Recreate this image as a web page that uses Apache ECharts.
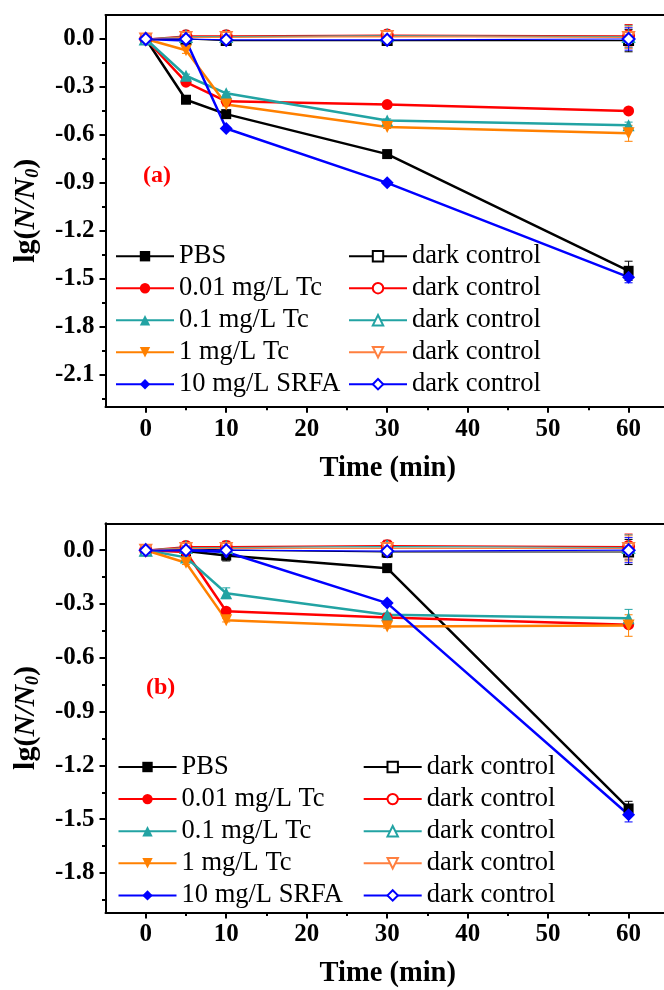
<!DOCTYPE html>
<html>
<head>
<meta charset="utf-8">
<script src="https://cdn.jsdelivr.net/npm/echarts@6/dist/echarts.min.js"></script>
<style>
  html, body { margin: 0; padding: 0; background: #fff; }
  #chart { width: 664px; height: 990px; }
</style>
</head>
<body>
<div id="chart"></div>
<script type="text/javascript">
// sampling times (min)
var times = [0, 5, 10, 30, 60];
var xTicks = [0, 10, 20, 30, 40, 50, 60];
var xMinor = [5, 15, 25, 35, 45, 55];
var yTicksA = [0.0, -0.3, -0.6, -0.9, -1.2, -1.5, -1.8, -2.1];
var yMinorA = [-0.15, -0.45, -0.75, -1.05, -1.35, -1.65, -1.95, -2.25];
var yTicksB = [0.0, -0.3, -0.6, -0.9, -1.2, -1.5, -1.8];
var yMinorB = [-0.15, -0.45, -0.75, -1.05, -1.35, -1.65, -1.95];

// panel (a)
var aPBS    = [0, -0.38, -0.47, -0.72, -1.45];
var aTc001  = [0, -0.27, -0.39, -0.41, -0.45];
var aTc01   = [0, -0.23, -0.34, -0.51, -0.54];
var aTc1    = [0, -0.07, -0.41, -0.55, -0.59];
var aSRFA   = [0, -0.01, -0.56, -0.90, -1.49];
var aDarkPBS  = [0, 0.00, -0.01, -0.01, -0.01];
var aDark001  = [0, 0.02, 0.02, 0.025, 0.02];
var aDark01   = [0, 0.015, 0.015, 0.02, 0.015];
var aDark1    = [0, 0.01, 0.01, 0.015, 0.01];
var aDarkSRFA = [0, 0.00, -0.005, -0.005, 0.00];
// error bars (a)
var aErrPBS   = [0, 0.02, 0.02, 0.01, 0.06];
var aErrTc001 = [0, 0.01, 0.01, 0.01, 0.01];
var aErrTc01  = [0, 0.01, 0.01, 0.01, 0.02];
var aErrTc1   = [0, 0.02, 0.01, 0.01, 0.05];
var aErrSRFA  = [0, 0.01, 0.01, 0.01, 0.035];
var aErrDark  = [0, 0.02, 0.03, 0.02, 0.07];

// panel (b)
var bPBS    = [0, -0.005, -0.03, -0.10, -1.44];
var bTc001  = [0, -0.01, -0.34, -0.375, -0.415];
var bTc01   = [0, -0.04, -0.24, -0.36, -0.38];
var bTc1    = [0, -0.07, -0.39, -0.425, -0.42];
var bSRFA   = [0, 0.00, -0.01, -0.295, -1.475];
var bDarkPBS  = [0, 0.01, 0.00, -0.01, -0.01];
var bDark001  = [0, 0.02, 0.02, 0.025, 0.02];
var bDark01   = [0, 0.015, 0.015, 0.02, 0.015];
var bDark1    = [0, 0.01, 0.01, 0.01, 0.01];
var bDarkSRFA = [0, 0.00, 0.00, -0.005, 0.00];
// error bars (b)
var bErrPBS   = [0, 0.01, 0.03, 0.01, 0.04];
var bErrTc001 = [0, 0.01, 0.01, 0.01, 0.01];
var bErrTc01  = [0, 0.01, 0.03, 0.01, 0.05];
var bErrTc1   = [0, 0.01, 0.01, 0.01, 0.06];
var bErrSRFA  = [0, 0.01, 0.01, 0.01, 0.04];
var bErrDark  = [0, 0.02, 0.03, 0.03, 0.07];

var FONT = 'Liberation Serif';
var C = { black: '#000000', red: '#FF0000', teal: '#22A3A3', orange: '#FF8000', blue: '#0000FF' };
// x range: the frame is cut by the right edge of the picture
var X_MIN = -5, X_MAX = 64.4;

var chart = echarts.init(document.getElementById('chart'));

function pts(arr) {
    return times.map(function (t, i) { return [t, arr[i]]; });
}

function errRender(params, api) {
    var x = api.value(0), y = api.value(1), e = api.value(2);
    if (!e) return null;
    var hi = api.coord([x, y + e]);
    var lo = api.coord([x, y - e]);
    var w = 4;
    var st = { stroke: api.visual('color'), lineWidth: 1 };
    return {
        type: 'group',
        children: [
            { type: 'line', shape: { x1: hi[0], y1: hi[1], x2: lo[0], y2: lo[1] }, style: st },
            { type: 'line', shape: { x1: hi[0] - w, y1: hi[1], x2: hi[0] + w, y2: hi[1] }, style: st },
            { type: 'line', shape: { x1: lo[0] - w, y1: lo[1], x2: lo[0] + w, y2: lo[1] }, style: st }
        ]
    };
}

// one panel worth of axes / series
var grids = [], xAxes = [], yAxes = [], series = [], legends = [], titles = [];

function panel(p) {
    var gi = grids.length;
    grids.push({ left: 105.5, right: 0, top: p.top, height: p.height });
    var xi = xAxes.length, yi = yAxes.length;
    var tickFont = { fontFamily: FONT, fontSize: 25, fontWeight: 'bold', color: '#000' };

    xAxes.push({
        gridIndex: gi, type: 'value', min: X_MIN, max: X_MAX, position: 'bottom',
        axisLine: { onZero: false, lineStyle: { color: '#000', width: 2 } },
        axisTick: { customValues: xTicks, length: 6, lineStyle: { color: '#000', width: 2 } },
        axisLabel: Object.assign({ customValues: xTicks, margin: 10 }, tickFont),
        splitLine: { show: false },
        name: 'Time (min)', nameLocation: 'middle', nameGap: 47,
        nameTextStyle: { fontFamily: FONT, fontSize: 28.5, fontWeight: 'bold', color: '#000', padding: [0, 0, 0, 6] }
    });
    xAxes.push({
        gridIndex: gi, type: 'value', min: X_MIN, max: X_MAX, position: 'bottom',
        axisLine: { show: false, onZero: false },
        axisTick: { customValues: xMinor, length: 3.5, lineStyle: { color: '#000', width: 2 } },
        axisLabel: { show: false }, splitLine: { show: false }
    });
    xAxes.push({
        gridIndex: gi, type: 'value', min: X_MIN, max: X_MAX, position: 'top',
        axisLine: { onZero: false, lineStyle: { color: '#000', width: 2 } },
        axisTick: { show: false }, axisLabel: { show: false }, splitLine: { show: false }
    });

    yAxes.push({
        gridIndex: gi, type: 'value', min: p.ymin, max: 0.15, position: 'left',
        axisLine: { onZero: false, lineStyle: { color: '#000', width: 2 } },
        axisTick: { customValues: p.yTicks, length: 6, lineStyle: { color: '#000', width: 2 } },
        axisLabel: Object.assign({
            customValues: p.yTicks, margin: 11,
            formatter: function (v) { return v.toFixed(1); }
        }, tickFont),
        splitLine: { show: false },
        name: '{a|lg(}{b|N/N}{c|0}{a|)}', nameLocation: 'middle', nameGap: 63,
        nameTextStyle: {
            rich: {
                a: { fontFamily: FONT, fontSize: 30, fontWeight: 'bold', color: '#000', lineHeight: 32 },
                b: { fontFamily: FONT, fontSize: 30, fontWeight: 'bold', fontStyle: 'italic', color: '#000', lineHeight: 32 },
                c: { fontFamily: FONT, fontSize: 18, fontWeight: 'bold', fontStyle: 'italic', color: '#000', lineHeight: 15, verticalAlign: 'bottom' }
            }
        }
    });
    yAxes.push({
        gridIndex: gi, type: 'value', min: p.ymin, max: 0.15, position: 'left',
        axisLine: { show: false, onZero: false },
        axisTick: { customValues: p.yMinor, length: 3.5, lineStyle: { color: '#000', width: 2 } },
        axisLabel: { show: false }, splitLine: { show: false }
    });

    var main = [
        ['PBS', p.PBS, C.black, 'rect', 10, 0, p.ePBS],
        ['0.01 mg/L Tc', p.Tc001, C.red, 'circle', 11, 0, p.eTc001],
        ['0.1 mg/L Tc', p.Tc01, C.teal, 'triangle', 12, 0, p.eTc01],
        ['1 mg/L Tc', p.Tc1, C.orange, 'triangle', 12, 180, p.eTc1],
        ['10 mg/L SRFA', p.SRFA, C.blue, 'diamond', 13, 0, p.eSRFA]
    ];
    var dark = [
        ['dark PBS', p.dPBS, C.black, 'emptyRect', 9, 0],
        ['dark 0.01', p.d001, C.red, 'emptyCircle', 11, 0],
        ['dark 0.1', p.d01, C.teal, 'emptyTriangle', 11, 0],
        ['dark 1', p.d1, '#FF7F3F', 'emptyTriangle', 11, 180],
        ['dark SRFA', p.dSRFA, C.blue, 'emptyDiamond', 12, 0]
    ];
    var leftNames = [], rightNames = [];

    main.forEach(function (s) {
        series.push({
            type: 'custom', xAxisIndex: xi, yAxisIndex: yi, renderItem: errRender,
            itemStyle: { color: s[2] }, z: 1,
            data: times.map(function (t, i) { return [t, s[1][i], s[6][i]]; })
        });
    });
    dark.forEach(function (s) {
        series.push({
            type: 'custom', xAxisIndex: xi, yAxisIndex: yi, renderItem: errRender,
            itemStyle: { color: s[2] }, z: 1,
            data: times.map(function (t, i) { return [t, s[1][i], p.eDark[i]]; })
        });
    });
    main.forEach(function (s) {
        leftNames.push(s[0]);
        series.push({
            name: s[0], type: 'line', xAxisIndex: xi, yAxisIndex: yi,
            symbol: s[3], symbolSize: s[4], symbolRotate: s[5],
            lineStyle: { color: s[2], width: 2.5 }, itemStyle: { color: s[2] },
            data: pts(s[1]), z: 2
        });
    });
    dark.forEach(function (s) {
        rightNames.push(s[0]);
        series.push({
            name: s[0], type: 'line', xAxisIndex: xi, yAxisIndex: yi,
            symbol: s[3], symbolSize: s[4], symbolRotate: s[5],
            lineStyle: { color: s[2], width: 1.2 },
            itemStyle: { color: s[2], borderWidth: 1.2 },
            data: pts(s[1]), z: 3
        });
    });

    var lg = {
        orient: 'vertical', padding: 0, itemWidth: 58, itemHeight: 13, itemGap: p.rowGap - 26.6,
        selectedMode: false,
        textStyle: { fontFamily: FONT, fontSize: 26.5, color: '#000', lineHeight: 26 },
        formatter: function (n) { return n.indexOf('dark') === 0 ? 'dark control' : n; }
    };
    legends.push(Object.assign({ left: p.legLeft, top: p.legTop, data: leftNames }, lg));
    legends.push(Object.assign({ left: p.legRight, top: p.legTop, data: rightNames }, lg));

    titles.push({
        text: p.label, left: p.labelX, top: p.labelY, padding: 0,
        textStyle: { fontFamily: FONT, fontSize: 24, fontWeight: 'bold', color: '#FF0000' }
    });
}

panel({
    top: 15, height: 391.7, ymin: -2.3, yTicks: yTicksA, yMinor: yMinorA,
    PBS: aPBS, Tc001: aTc001, Tc01: aTc01, Tc1: aTc1, SRFA: aSRFA,
    dPBS: aDarkPBS, d001: aDark001, d01: aDark01, d1: aDark1, dSRFA: aDarkSRFA,
    ePBS: aErrPBS, eTc001: aErrTc001, eTc01: aErrTc01, eTc1: aErrTc1, eSRFA: aErrSRFA, eDark: aErrDark,
    legLeft: 115, legRight: 348, legTop: 242.7, rowGap: 31.6,
    label: '(a)', labelX: 143, labelY: 164
});
panel({
    top: 523.3, height: 389.2, ymin: -2.02, yTicks: yTicksB, yMinor: yMinorB,
    PBS: bPBS, Tc001: bTc001, Tc01: bTc01, Tc1: bTc1, SRFA: bSRFA,
    dPBS: bDarkPBS, d001: bDark001, d01: bDark01, d1: bDark1, dSRFA: bDarkSRFA,
    ePBS: bErrPBS, eTc001: bErrTc001, eTc01: bErrTc01, eTc1: bErrTc1, eSRFA: bErrSRFA, eDark: bErrDark,
    legLeft: 117.5, legRight: 362.7, legTop: 753.5, rowGap: 31.7,
    label: '(b)', labelX: 146, labelY: 676
});

var option = {
    backgroundColor: '#ffffff',
    animation: false,
    title: titles,
    legend: legends,
    grid: grids,
    xAxis: xAxes,
    yAxis: yAxes,
    series: series
};

chart.setOption(option);
</script>
</body>
</html>
